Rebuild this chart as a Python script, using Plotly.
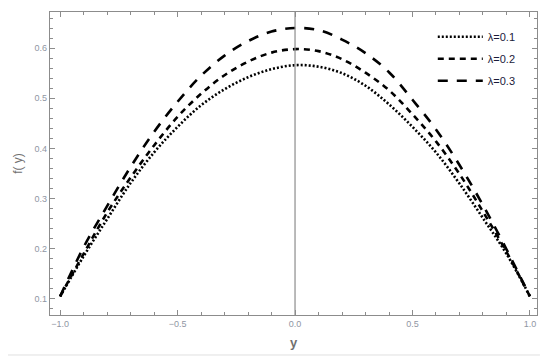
import plotly.graph_objects as go

y_vals = [-1.0, -0.9, -0.8, -0.7, -0.6, -0.5, -0.4, -0.3, -0.2, -0.1, 0.0,
          0.1, 0.2, 0.3, 0.4, 0.5, 0.6, 0.7, 0.8, 0.9, 1.0]

f_lam01 = [0.105, 0.185, 0.259, 0.331, 0.392, 0.443, 0.486, 0.518, 0.542, 0.558, 0.566,
           0.563, 0.550, 0.525, 0.488, 0.443, 0.392, 0.330, 0.261, 0.190, 0.105]
f_lam02 = [0.105, 0.190, 0.272, 0.342, 0.406, 0.463, 0.509, 0.546, 0.573, 0.591, 0.598,
           0.594, 0.578, 0.551, 0.516, 0.468, 0.414, 0.349, 0.274, 0.194, 0.105]
f_lam03 = [0.105, 0.203, 0.285, 0.363, 0.433, 0.493, 0.545, 0.585, 0.614, 0.633, 0.640,
           0.636, 0.617, 0.590, 0.552, 0.497, 0.438, 0.367, 0.287, 0.199, 0.105]

names = ['λ=0.1', 'λ=0.2', 'λ=0.3']
dashes = ['2px,2px', '6px,5px', '10px,9px']

fig = go.Figure()
for name, vals, dash in zip(names, [f_lam01, f_lam02, f_lam03], dashes):
    fig.add_trace(go.Scatter(
        x=y_vals, y=vals, name=name, mode='lines', legendgroup=name,
        line=dict(color='black', width=2.6, dash=dash, shape='spline'),
    ))

axis_common = dict(
    showgrid=False, zeroline=False, showline=True, linecolor='#8c8c8c', linewidth=1.2,
    mirror='ticks', ticks='inside', tickcolor='#8c8c8c', ticklen=5, automargin=False,
    tickfont=dict(family='Liberation Sans', size=9, color='#8f96a3'),
)

# the page body adds an 8px offset, so the figure is sized to end at the window edge
fig.update_layout(
    width=542, height=354,
    margin=dict(l=42, r=13, t=4, b=47),
    paper_bgcolor='white', plot_bgcolor='white',
    xaxis=dict(range=[-1.043, 1.03], tickvals=[-1.0, -0.5, 0.0, 0.5, 1.0],
               ticktext=['−1.0', '−0.5', '0.0', '0.5', '1.0'],
               minor=dict(dtick=0.1, tick0=0, ticks='inside', ticklen=3, tickcolor='#8c8c8c'),
               title=dict(text='<b>y</b>', standoff=9,
                          font=dict(family='Liberation Sans', size=13, color='#707070')),
               **axis_common),
    yaxis=dict(range=[0.068, 0.672], tickvals=[0.1, 0.2, 0.3, 0.4, 0.5, 0.6],
               minor=dict(dtick=0.02, tick0=0, ticks='inside', ticklen=3, tickcolor='#8c8c8c'),
               title=dict(text='f( y)', standoff=9,
                          font=dict(family='Liberation Sans', size=12, color='#707070')),
               **axis_common),
    legend=dict(x=0.786, y=0.966, xanchor='left', yanchor='top', bgcolor='rgba(0,0,0,0)',
                font=dict(family='Liberation Sans', size=11, color='#1a1a3a'),
                itemwidth=45, tracegroupgap=3, traceorder='grouped'),
    showlegend=True,
)

fig.add_vline(x=0, line=dict(color='#8c8c8c', width=1.2))
fig.add_shape(type='line', xref='paper', yref='paper', x0=-0.094, x1=1.006, y0=-0.132, y1=-0.132,
              line=dict(color='#e0e0e0', width=1))

fig.write_html('out.html')
